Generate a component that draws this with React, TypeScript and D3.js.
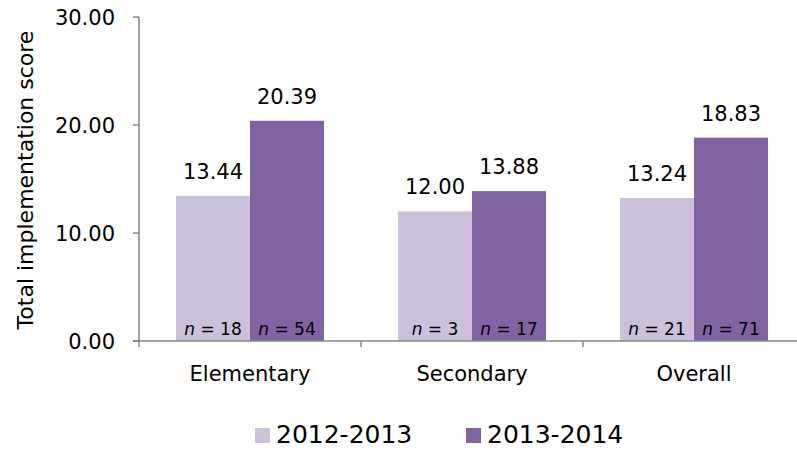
import React from "react";
import * as d3 from "d3";

const categories = ["Elementary", "Secondary", "Overall"];
const seriesNames = ["2012-2013", "2013-2014"];
const values2012 = [13.44, 12.0, 13.24];
const values2013 = [20.39, 13.88, 18.83];
const n2012 = [18, 3, 21];
const n2013 = [54, 17, 71];
const yTicks = [0, 10, 20, 30];
const colors = ["#CCC1DA", "#8064A2"];

const W = 797;
const H = 450;
const FONT = "DejaVu Sans, sans-serif";
const AXIS = "#868686";

export default function App() {
  const y = d3.scaleLinear().domain([0, 30]).range([341, 17]);
  const x = d3
    .scaleBand<string>()
    .domain(categories)
    .range([139, 805])
    .paddingInner(1 / 3)
    .paddingOuter(1 / 6);
  const xs = d3.scaleBand<string>().domain(seriesNames).range([0, x.bandwidth()]);
  const step = x.step();
  const series = [
    { name: seriesNames[0], vals: values2012, ns: n2012 },
    { name: seriesNames[1], vals: values2013, ns: n2013 },
  ];
  const bandStart = (c: string) => (x(c) as number) - (step - x.bandwidth()) / 2;

  return (
    <svg
      width={W}
      height={H}
      style={{ position: "absolute", left: 0, top: 0, background: "#fff" }}
      fontFamily={FONT}
    >
      {/* bars */}
      {series.map((s, si) =>
        categories.map((c, ci) => {
          const bx = (x(c) as number) + (xs(s.name) as number);
          const by = y(s.vals[ci]);
          return (
            <g key={`${si}-${ci}`}>
              <rect x={bx} y={by} width={xs.bandwidth()} height={y(0) - by} fill={colors[si]} />
              <text
                x={bx + xs.bandwidth() / 2}
                y={by - 17}
                textAnchor="middle"
                fontSize={21}
                fill="#000"
              >
                {s.vals[ci].toFixed(2)}
              </text>
              <text
                x={bx + xs.bandwidth() / 2}
                y={335}
                textAnchor="middle"
                fontSize={17}
                fill="#000"
              >
                <tspan fontStyle="italic">n</tspan>
                {` = ${s.ns[ci]}`}
              </text>
            </g>
          );
        })
      )}

      {/* y axis */}
      <line x1={139} x2={139} y1={y(30)} y2={347} stroke={AXIS} strokeWidth={1.5} />
      {yTicks.map((t) => (
        <g key={t}>
          <line x1={133} x2={139} y1={y(t)} y2={y(t)} stroke={AXIS} strokeWidth={1.5} />
          <text x={115} y={y(t)} dy="0.38em" textAnchor="end" fontSize={21} fill="#000">
            {t.toFixed(2)}
          </text>
        </g>
      ))}

      {/* x axis */}
      <line x1={133} x2={797} y1={y(0)} y2={y(0)} stroke={AXIS} strokeWidth={1.5} />
      {categories.slice(1).map((c) => (
        <line
          key={c}
          x1={bandStart(c)}
          x2={bandStart(c)}
          y1={y(0)}
          y2={347}
          stroke={AXIS}
          strokeWidth={1.5}
        />
      ))}
      {categories.map((c) => (
        <text
          key={c}
          x={(x(c) as number) + x.bandwidth() / 2}
          y={381}
          textAnchor="middle"
          fontSize={21}
          fill="#000"
        >
          {c}
        </text>
      ))}

      {/* y title */}
      <text
        transform="translate(33,180) rotate(-90)"
        textAnchor="middle"
        fontSize={22}
        fill="#000"
      >
        Total implementation score
      </text>

      {/* legend */}
      {seriesNames.map((name, i) => {
        const lx = i === 0 ? 255 : 466;
        return (
          <g key={name}>
            <rect x={lx} y={428} width={15} height={15} fill={colors[i]} />
            <text x={lx + 21} y={443} fontSize={25} fill="#000">
              {name}
            </text>
          </g>
        );
      })}
    </svg>
  );
}
